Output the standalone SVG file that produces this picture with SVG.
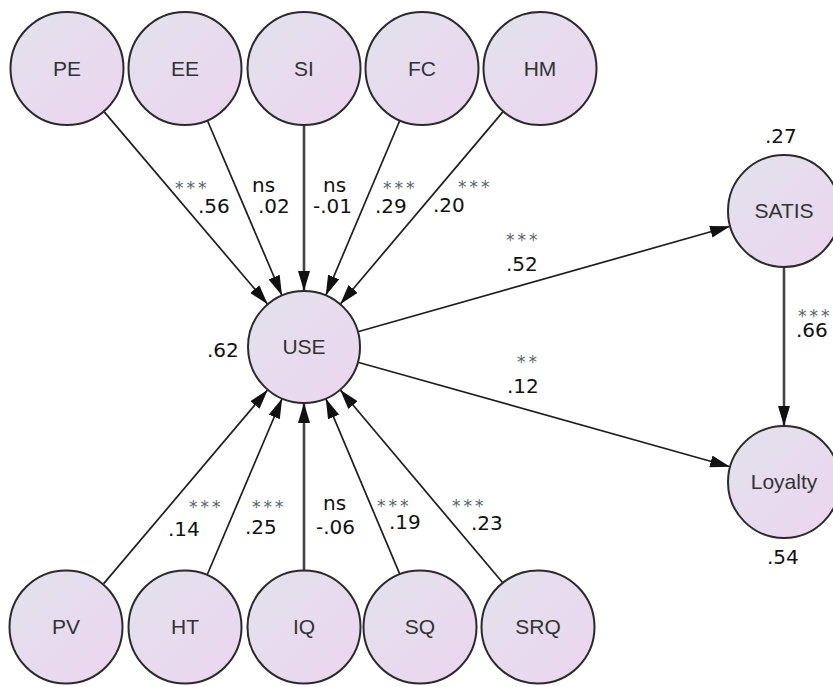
<svg xmlns="http://www.w3.org/2000/svg" width="833" height="687" viewBox="0 0 833 687">
<defs>
<linearGradient id="nodeFill" x1="0" y1="0" x2="1" y2="1">
<stop offset="0" stop-color="#e2e2ec"/>
<stop offset="1" stop-color="#ecd5f0"/>
</linearGradient>
<marker id="arrow" markerUnits="userSpaceOnUse" markerWidth="20" markerHeight="12" refX="20" refY="6" orient="auto">
<path d="M0,0 L20,6 L0,12 Z" fill="#111"/>
</marker>
<style>
.node circle{fill:url(#nodeFill);stroke:#2a2a2a;stroke-width:2}
.node text{font-family:"Liberation Sans",Arial,sans-serif;font-size:21px;fill:#333;text-anchor:middle}
.edge{stroke:#1e1e1e;stroke-width:1.7;fill:none;marker-end:url(#arrow)}
.vert{stroke:#444;stroke-width:2.6}
.num{font-family:"DejaVu Sans",Verdana,sans-serif;font-size:20px;fill:#111}
.ast{font-family:"DejaVu Sans",Verdana,sans-serif;font-size:17px;fill:#5a6468;letter-spacing:3px}
</style>
</defs>
<rect width="833" height="687" fill="#fff"/>
<g id="connectors">
<line class="edge" x1="103.6" y1="111.1" x2="267.7" y2="304.3"/>
<line class="edge" x1="207.2" y1="120" x2="282" y2="295.5"/>
<line class="edge vert" x1="304" y1="124.5" x2="304" y2="291"/>
<line class="edge" x1="400" y1="120" x2="325.8" y2="295.4"/>
<line class="edge" x1="503.5" y1="111.1" x2="340.2" y2="304.2"/>
<line class="edge" x1="103.5" y1="583.9" x2="267.8" y2="389.7"/>
<line class="edge" x1="207.1" y1="575" x2="282.1" y2="398.5"/>
<line class="edge vert" x1="304" y1="570.5" x2="304" y2="403"/>
<line class="edge" x1="400.1" y1="574.9" x2="325.8" y2="398.6"/>
<line class="edge" x1="503.6" y1="583.8" x2="340.1" y2="389.8"/>
<line class="edge" x1="357.9" y1="331.7" x2="730.1" y2="226.3"/>
<line class="edge" x1="357.9" y1="362.2" x2="730.1" y2="466.8"/>
<line class="edge vert" x1="784" y1="267" x2="784" y2="426"/>
</g>
<g id="labels">
<text class="ast" x="175" y="194">***</text>
<text class="num" x="198" y="213">.56</text>
<text class="num" x="252" y="192">ns</text>
<text class="num" x="258" y="213">.02</text>
<text class="num" x="323" y="192">ns</text>
<text class="num" x="313" y="213">-.01</text>
<text class="ast" x="383" y="194">***</text>
<text class="num" x="375" y="213">.29</text>
<text class="ast" x="458" y="193">***</text>
<text class="num" x="433" y="212">.20</text>
<text class="ast" x="506" y="246">***</text>
<text class="num" x="506" y="271">.52</text>
<text class="ast" x="517" y="368">**</text>
<text class="num" x="507" y="393">.12</text>
<text class="num" x="207" y="357">.62</text>
<text class="num" x="765" y="143">.27</text>
<text class="ast" x="798" y="322" letter-spacing="2">***</text>
<text class="num" x="796" y="337">.66</text>
<text class="num" x="767" y="564">.54</text>
<text class="ast" x="189" y="513">***</text>
<text class="num" x="168" y="536">.14</text>
<text class="ast" x="252" y="513">***</text>
<text class="num" x="245" y="534">.25</text>
<text class="num" x="323" y="510">ns</text>
<text class="num" x="316" y="534">-.06</text>
<text class="ast" x="377" y="512">***</text>
<text class="num" x="389" y="529">.19</text>
<text class="ast" x="452" y="512">***</text>
<text class="num" x="471" y="530">.23</text>
</g>
<g id="PE" class="node"><circle cx="67" cy="68.5" r="56.5"/><text x="67" y="76">PE</text></g>
<g id="EE" class="node"><circle cx="185" cy="68.5" r="56.5"/><text x="185" y="76">EE</text></g>
<g id="SI" class="node"><circle cx="304" cy="68.5" r="56.5"/><text x="304" y="76">SI</text></g>
<g id="FC" class="node"><circle cx="422" cy="68.5" r="56.5"/><text x="422" y="76">FC</text></g>
<g id="HM" class="node"><circle cx="540" cy="68.5" r="56.5"/><text x="540" y="76">HM</text></g>
<g id="USE" class="node"><circle cx="304" cy="347" r="56"/><text x="304" y="354">USE</text></g>
<g id="SATIS" class="node"><circle cx="784" cy="211" r="56"/><text x="784" y="218">SATIS</text></g>
<g id="Loyalty" class="node"><circle cx="784" cy="482" r="56"/><text x="784" y="489">Loyalty</text></g>
<g id="PV" class="node"><circle cx="66" cy="627" r="56.5"/><text x="66" y="634">PV</text></g>
<g id="HT" class="node"><circle cx="185" cy="627" r="56.5"/><text x="185" y="634">HT</text></g>
<g id="IQ" class="node"><circle cx="304" cy="627" r="56.5"/><text x="304" y="634">IQ</text></g>
<g id="SQ" class="node"><circle cx="420" cy="627" r="56.5"/><text x="420" y="634">SQ</text></g>
<g id="SRQ" class="node"><circle cx="538" cy="627" r="56.5"/><text x="538" y="634">SRQ</text></g>
</svg>
